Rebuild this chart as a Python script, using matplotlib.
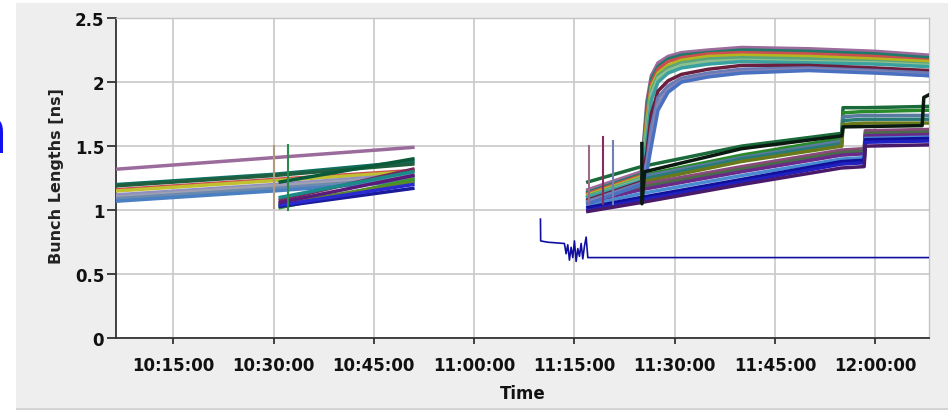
import matplotlib
matplotlib.use('Agg')
import matplotlib.pyplot as plt
import matplotlib.dates as mdates
from matplotlib.patches import Rectangle
from datetime import datetime

DAY = '2012-06-01 '

def t(s):
    return mdates.date2num(datetime.strptime(DAY + s, '%Y-%m-%d %H:%M:%S'))

# ---- first fill: bunches present from the start of the window ----
a_times = ['10:06:30', '10:30:00', '10:50:50']
a_vals = [
    [1.32, 1.41, 1.49],
    [1.20, 1.28, 1.38],
    [1.19, 1.27, 1.36],
    [1.16, 1.24, 1.31],
    [1.15, 1.23, 1.30],
    [1.12, 1.20, 1.28],
    [1.10, 1.19, 1.26],
    [1.09, 1.17, 1.25],
    [1.07, 1.15, 1.23],
]
a_cols = ['#9b6b9b', '#0f6e5e', '#1f5f3f', '#c85050', '#c0c030',
          '#9090c0', '#a0a0b0', '#6a8ab0', '#4a7fc1']

# bunches injected around 10:30
a2_times = ['10:31:00', '10:50:50']
a2_vals = [
    [1.02, 1.24],
    [1.05, 1.22],
    [1.03, 1.17],
    [1.04, 1.20],
    [1.08, 1.32],
    [1.06, 1.27],
    [1.10, 1.30],
    [1.22, 1.40],
]
a2_cols = ['#3a9a2a', '#5a8a2a', '#1a1a9a', '#2a2ad0', '#7a2a5a',
           '#5a1a7a', '#1a8a8a', '#0a5a3a']

# ---- probe bunch between fills ----
b_times = ['11:09:55', '11:09:57', '11:11:00', '11:13:30', '11:13:45', '11:14:00',
           '11:14:15', '11:14:30', '11:14:45', '11:15:00', '11:15:15', '11:15:30',
           '11:15:45', '11:16:00', '11:16:15', '11:16:30', '11:16:45', '11:17:00',
           '12:08:00']
b_vals = [0.93, 0.76, 0.75, 0.74, 0.66, 0.73, 0.61, 0.71, 0.63, 0.76, 0.60,
          0.70, 0.64, 0.74, 0.62, 0.72, 0.79, 0.63, 0.63]

# ---- second fill, bunches that stay short ----
c1_times = ['11:17:00', '11:25:00', '11:40:00', '11:55:00', '11:55:10',
            '11:58:20', '11:58:30', '12:08:00']
c1_vals = [
    [1.22, 1.34, 1.50, 1.60, 1.80, 1.80, 1.80, 1.81],
    [1.15, 1.27, 1.43, 1.56, 1.76, 1.77, 1.77, 1.78],
    [1.13, 1.26, 1.41, 1.54, 1.73, 1.74, 1.74, 1.74],
    [1.12, 1.24, 1.40, 1.52, 1.70, 1.71, 1.71, 1.71],
    [1.10, 1.22, 1.38, 1.50, 1.67, 1.68, 1.68, 1.68],
    [1.10, 1.20, 1.34, 1.47, 1.47, 1.48, 1.62, 1.63],
    [1.08, 1.18, 1.32, 1.45, 1.45, 1.46, 1.60, 1.61],
    [1.06, 1.16, 1.30, 1.43, 1.43, 1.44, 1.58, 1.59],
    [1.04, 1.13, 1.27, 1.40, 1.40, 1.41, 1.56, 1.57],
    [1.02, 1.10, 1.24, 1.38, 1.38, 1.39, 1.55, 1.56],
    [1.00, 1.08, 1.22, 1.36, 1.36, 1.37, 1.53, 1.54],
    [0.99, 1.06, 1.20, 1.33, 1.33, 1.34, 1.50, 1.51],
]
c1_cols = ['#1a6a3a', '#2a8a2a', '#5a7aa0', '#2a7a7a', '#6a7a1a',
           '#8a4a7a', '#4a6a4a', '#6a2a8a', '#4a8ad0', '#10109a',
           '#2020c0', '#4a1a6a']

black_times = ['11:25:05', '11:25:06', '11:25:30', '11:40:00', '11:55:00',
               '11:55:10', '12:07:00', '12:07:15', '12:08:00']
black_vals = [1.52, 1.05, 1.30, 1.48, 1.58, 1.65, 1.66, 1.88, 1.90]

# ---- second fill, bunches that get blown up after 11:25 ----
c2_times = ['11:17:00', '11:25:00', '11:25:50', '11:26:30', '11:27:30', '11:29:00',
            '11:31:00', '11:35:00', '11:40:00', '11:50:00', '12:00:00', '12:08:00']
c2_vals = [
    [1.16, 1.30, 1.85, 2.05, 2.15, 2.20, 2.23, 2.25, 2.27, 2.26, 2.24, 2.21],
    [1.14, 1.28, 1.80, 2.02, 2.12, 2.18, 2.21, 2.23, 2.25, 2.24, 2.22, 2.19],
    [1.13, 1.27, 1.75, 1.99, 2.10, 2.16, 2.19, 2.22, 2.23, 2.22, 2.20, 2.17],
    [1.12, 1.26, 1.70, 1.96, 2.07, 2.13, 2.17, 2.20, 2.21, 2.20, 2.18, 2.16],
    [1.11, 1.25, 1.65, 1.93, 2.05, 2.11, 2.15, 2.18, 2.19, 2.18, 2.16, 2.14],
    [1.10, 1.24, 1.60, 1.90, 2.03, 2.09, 2.13, 2.16, 2.17, 2.16, 2.15, 2.13],
    [1.10, 1.23, 1.55, 1.86, 2.00, 2.07, 2.11, 2.14, 2.16, 2.15, 2.14, 2.12],
    [1.08, 1.22, 1.45, 1.75, 1.93, 2.01, 2.06, 2.10, 2.13, 2.13, 2.11, 2.09],
    [1.07, 1.21, 1.38, 1.65, 1.88, 1.97, 2.03, 2.07, 2.10, 2.11, 2.09, 2.07],
    [1.06, 1.20, 1.33, 1.58, 1.83, 1.94, 2.01, 2.05, 2.08, 2.10, 2.08, 2.05],
    [1.05, 1.20, 1.30, 1.50, 1.78, 1.92, 2.00, 2.04, 2.07, 2.09, 2.07, 2.05],
]
c2_cols = ['#9b6b9b', '#1f7a6a', '#c85050', '#b5b520', '#5aa57a', '#8fc08f',
           '#3aa0a0', '#6a1f3f', '#6a7ab5', '#8585b5', '#4a70c0']

# single-sample spikes (time, low, high, colour)
spike_times = ['10:30:00', '10:32:08', '11:17:11', '11:19:16', '11:20:46']
spike_lo = [1.02, 1.00, 1.05, 1.05, 1.05]
spike_hi = [1.50, 1.51, 1.50, 1.57, 1.54]
spike_cols = ['#b09a80', '#2a8a4a', '#9b6b8b', '#8a2a5a', '#7080b0']

yticks = [0, 0.5, 1, 1.5, 2, 2.5]
ytick_labels = ['0', '0.5', '1', '1.5', '2', '2.5']

W, H = 948, 414
fig = plt.figure(figsize=(W / 100, H / 100), dpi=100, facecolor='white')

# grey panel behind the chart
fig.patches.append(Rectangle((16 / W, 1 - 409 / H), 1, (409 - 4) / H,
                             transform=fig.transFigure, facecolor='#eeeeee',
                             edgecolor='none', zorder=-5))
fig.patches.append(Rectangle((16 / W, 1 - 411 / H), 1, 2 / H,
                             transform=fig.transFigure, facecolor='#d4d4d4',
                             edgecolor='none', zorder=-5))
fig.text(8 / W, 1 - 135 / H, 'n', color='#1010f0', fontsize=46,
         ha='right', va='center')

ax = fig.add_axes([116 / W, 1 - 339.3 / H, (928.7 - 116) / W, (339.3 - 19) / H])
ax.set_zorder(2)
ax.set_facecolor('white')

lw = 2.5
for row, c in zip(a_vals, a_cols):
    ax.plot([t(s) for s in a_times], row, color=c, lw=lw, zorder=3)
for row, c in zip(a2_vals, a2_cols):
    ax.plot([t(s) for s in a2_times], row, color=c, lw=lw, zorder=3)
for row, c in zip(c1_vals, c1_cols):
    ax.plot([t(s) for s in c1_times], row, color=c, lw=lw, zorder=3)
for row, c in zip(c2_vals, c2_cols):
    ax.plot([t(s) for s in c2_times], row, color=c, lw=lw, zorder=3)
ax.plot([t(s) for s in black_times], black_vals, color='#0a1a10', lw=lw, zorder=4)
ax.plot([t(s) for s in b_times], b_vals, color='#1010a0', lw=1.2, zorder=4)
for s, lo, hi, c in zip(spike_times, spike_lo, spike_hi, spike_cols):
    ax.plot([t(s), t(s)], [lo, hi], color=c, lw=1.5, zorder=3)

ax.set_xlim(t('10:06:26'), t('12:07:59'))
ax.set_ylim(0, 2.5)
ax.xaxis.set_major_locator(mdates.MinuteLocator(byminute=[0, 15, 30, 45]))
ax.xaxis.set_major_formatter(mdates.DateFormatter('%H:%M:%S'))
ax.set_yticks(yticks)
ax.set_yticklabels(ytick_labels)

ax.grid(True, color='#c8c8c8', lw=1.2, zorder=1)
ax.set_axisbelow(True)
for side in ['top', 'right']:
    ax.spines[side].set_color('#c4c4c4')
    ax.spines[side].set_linewidth(1.0)
for side in ['left', 'bottom']:
    ax.spines[side].set_color('#333333')
    ax.spines[side].set_linewidth(1.3)

ax.tick_params(axis='x', length=4.5, width=1.2, pad=8, colors='#222222')
ax.tick_params(axis='y', length=6.5, width=1.2, pad=2, colors='#222222')
for lab in ax.get_xticklabels() + ax.get_yticklabels():
    lab.set_fontweight('bold')
    lab.set_fontsize(12)
    lab.set_color('#111111')

ax.set_xlabel('Time', fontsize=12, fontweight='bold', color='#111111')
ax.xaxis.set_label_coords(0.5008, -0.143)
ax.set_ylabel('Bunch Lengths [ns]', fontsize=11.5, fontweight='bold', color='#222222')
ax.yaxis.set_label_coords(-0.064, 0.51)

plt.savefig('out.png', dpi=100, facecolor=fig.get_facecolor())
